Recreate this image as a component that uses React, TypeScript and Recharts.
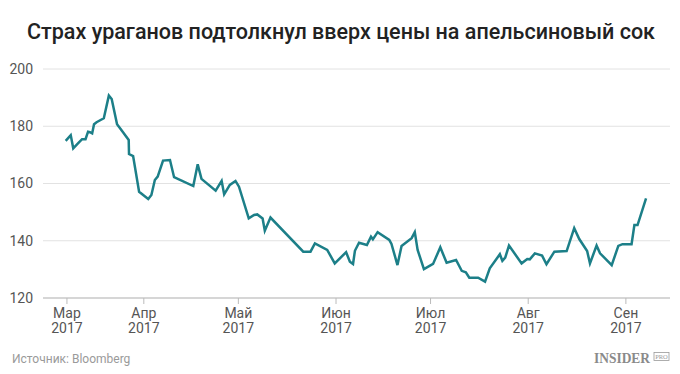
import React from "react";
import { LineChart, Line, XAxis, YAxis, CartesianGrid } from "recharts";

// x = days since 1 March 2017, y = price
const days: number[] = [
  6.2, 7.8, 8.6, 10.1, 11.4, 12.5, 13.3, 13.9, 14.6, 15.2, 16.0, 18.3, 19.9, 20.8, 22.5, 24.4, 26.2, 26.3, 27.6, 29.5,
  32.4, 33.4, 34.5, 35.4, 37.1, 39.3, 40.6, 46.7, 48.1, 49.3, 53.8, 55.7, 56.5, 58.3, 60.1, 61.2, 64.3, 66.0, 67.0, 68.7,
  69.4, 71.2, 81.6, 83.9, 85.3, 89.2, 91.6, 95.2, 96.4, 97.4, 98.0, 99.3, 101.8, 103.1, 103.7, 105.2, 108.9, 109.6, 111.5, 112.8,
  116.0, 117.0, 117.9, 119.9, 122.8, 125.1, 127.1, 130.1, 131.9, 133.2, 134.3, 137.1, 139.3, 140.8, 144.0, 144.8, 145.7, 146.9, 150.9, 152.7,
  153.5, 155.1, 157.4, 158.8, 161.3, 165.2, 167.6, 169.2, 171.7, 172.6, 174.7, 175.8, 179.5, 181.6, 182.9, 185.8, 186.7, 187.7, 190.4,
];
const prices: number[] = [
  174.9, 176.9, 172.3, 174.0, 175.5, 175.5, 178.1, 177.9, 177.5, 180.7, 181.4, 182.8, 190.7, 189.5, 180.7, 177.9, 175.2, 170.3, 169.6, 157.1,
  154.6, 156.0, 161.2, 162.4, 168.0, 168.2, 162.2, 159.1, 166.7, 161.6, 157.5, 160.9, 156.2, 159.5, 160.9, 158.9, 147.8, 149.0, 149.2, 147.8,
  143.5, 148.1, 136.2, 136.2, 139.1, 136.8, 132.1, 136.0, 132.7, 131.9, 136.5, 139.3, 138.5, 141.4, 140.5, 143.0, 140.3, 138.9, 131.5, 138.2,
  140.9, 143.0, 136.8, 130.1, 131.9, 137.7, 132.3, 133.3, 129.5, 129.0, 127.1, 127.1, 125.7, 130.4, 135.3, 133.0, 134.1, 138.3, 132.1, 133.6,
  133.5, 135.6, 134.8, 131.8, 136.2, 136.4, 144.4, 140.6, 136.4, 132.1, 138.3, 135.6, 131.5, 138.2, 138.8, 138.8, 145.5, 145.5, 154.8,
];

const tickDays: number[] = [6.6, 31, 61, 92, 122, 153, 184];
const monthLabels: string[] = ["Мар", "Апр", "Май", "Июн", "Июл", "Авг", "Сен"];
const yearLabels: string[] = ["2017", "2017", "2017", "2017", "2017", "2017", "2017"];
const yTicks: number[] = [120, 140, 160, 180, 200];

const title = "Страх ураганов подтолкнул вверх цены на апельсиновый сок";
const source = "Источник: Bloomberg";

const data = days.map((d, i) => ({ day: d, price: prices[i] }));

const FONT = "Roboto, 'Noto Sans', sans-serif";

const MonthTick = (props: any) => {
  const { x, y, payload } = props;
  const i = tickDays.indexOf(payload.value);
  return (
    <g transform={`translate(${x},${y})`}>
      <text x={0} y={12} textAnchor="middle" fill="#555" fontSize={14} fontFamily={FONT}>
        {monthLabels[i]}
      </text>
      <text x={0} y={27} textAnchor="middle" fill="#555" fontSize={14} fontFamily={FONT}>
        {yearLabels[i]}
      </text>
    </g>
  );
};

export default function App() {
  return (
    <div style={{ position: "relative", width: 680, height: 374, background: "#fff", overflow: "hidden" }}>
      <style>{`body{margin:0;}`}</style>
      <svg width={680} height={60} style={{ position: "absolute", left: 0, top: 0 }}>
        <text
          x={27}
          y={39}
          fontSize={22}
          fontFamily={FONT}
          fontWeight={500}
          fill="#222"
          textLength={628}
          lengthAdjust="spacingAndGlyphs"
        >
          {title}
        </text>
      </svg>
      <div style={{ position: "absolute", left: 0, top: 0 }}>
        <LineChart width={680} height={374} data={data} margin={{ top: 69, right: 10, left: 0, bottom: 36 }}>
          <CartesianGrid vertical={false} stroke="#e2e2e2" strokeWidth={1} />
          <XAxis
            dataKey="day"
            type="number"
            domain={[-1, 198]}
            ticks={tickDays}
            tick={<MonthTick />}
            tickLine={{ stroke: "#bbb" }}
            axisLine={{ stroke: "#bbb" }}
            tickSize={6}
            tickMargin={2}
            height={40}
            interval={0}
          />
          <YAxis
            type="number"
            domain={[120, 200]}
            ticks={yTicks}
            width={43}
            axisLine={false}
            tickLine={false}
            tickSize={0}
            tickMargin={10}
            tick={{ fill: "#555", fontSize: 14, fontFamily: FONT }}
          />
          <Line
            type="linear"
            dataKey="price"
            stroke="#1c7f88"
            strokeWidth={2.5}
            dot={false}
            isAnimationActive={false}
          />
        </LineChart>
      </div>
      <svg width={680} height={374} style={{ position: "absolute", left: 0, top: 0, pointerEvents: "none" }}>
        <text x={12} y={363} fontSize={12} fontFamily={FONT} fill="#9a9a9a">
          {source}
        </text>
        <text
          x={594}
          y={363}
          fontSize={15}
          fontFamily="'Liberation Serif', 'DejaVu Serif', serif"
          fontWeight={700}
          fill="#8a8a8a"
          textLength={56}
          lengthAdjust="spacingAndGlyphs"
        >
          INSIDER
        </text>
        <rect x={654} y={352.5} width={15} height={8} fill="none" stroke="#9a9a9a" strokeWidth={0.8} />
        <text x={661.5} y={359} fontSize={6.5} fontFamily="'Liberation Serif', serif" fill="#9a9a9a" textAnchor="middle">
          PRO
        </text>
      </svg>
    </div>
  );
}
